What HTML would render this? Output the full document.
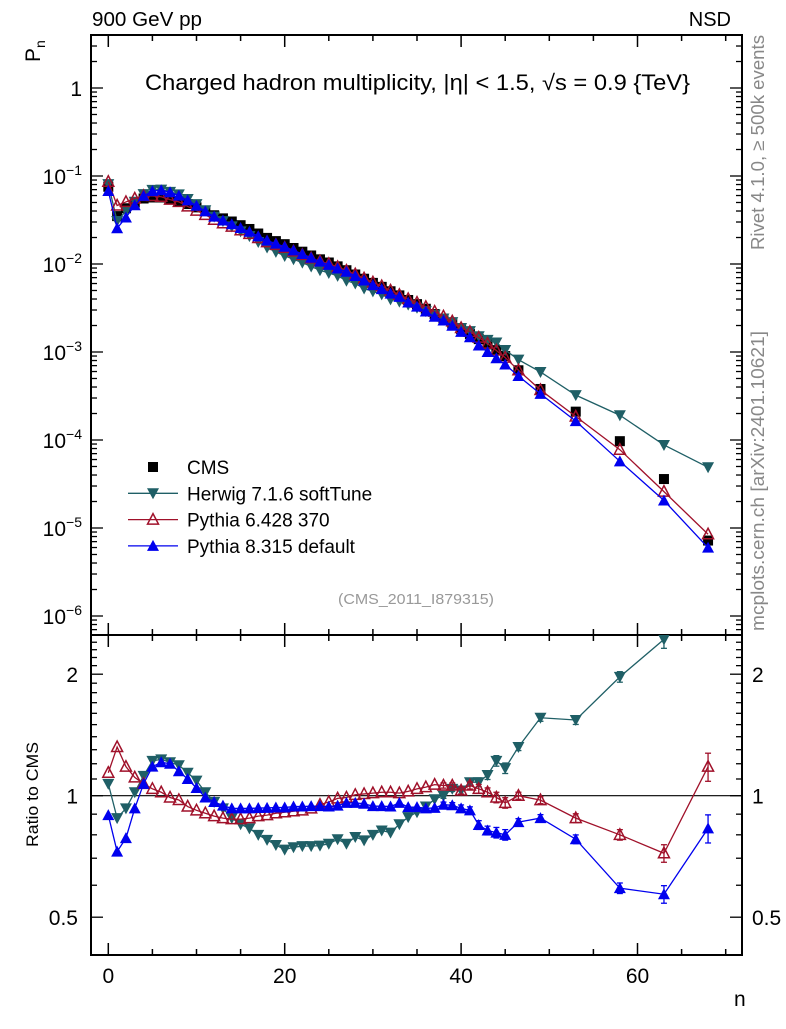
<!DOCTYPE html>
<html><head><meta charset="utf-8"><style>
body{margin:0;background:#fff;}
svg text{font-family:"Liberation Sans",sans-serif;}
</style></head><body>
<svg id="c" width="786" height="1024" xmlns="http://www.w3.org/2000/svg">
<defs>
<clipPath id="cm"><rect x="91" y="35" width="651" height="600"/></clipPath>
<clipPath id="cr"><rect x="91" y="635" width="651" height="320"/></clipPath>
</defs>
<rect x="0" y="0" width="786" height="1024" fill="#fff"/>
<text x="92" y="26" font-size="20" textLength="110" lengthAdjust="spacingAndGlyphs">900 GeV pp</text>
<text x="731" y="26" font-size="20" text-anchor="end">NSD</text>
<text x="145" y="90" font-size="22" textLength="545" lengthAdjust="spacingAndGlyphs">Charged hadron multiplicity, |η| &lt; 1.5, √s = 0.9 {TeV}</text>
<text transform="translate(764,250) rotate(-90)" font-size="18" textLength="215" lengthAdjust="spacingAndGlyphs" fill="#888">Rivet 4.1.0, ≥ 500k events</text>
<text transform="translate(764,631) rotate(-90)" font-size="18" textLength="300" lengthAdjust="spacingAndGlyphs" fill="#888">mcplots.cern.ch [arXiv:2401.10621]</text>
<text x="416" y="604" font-size="15" textLength="156" lengthAdjust="spacingAndGlyphs" fill="#999" text-anchor="middle">(CMS_2011_I879315)</text>
<text transform="translate(40,62) rotate(-90)" font-size="21">P<tspan font-size="14" dy="5">n</tspan></text>
<text transform="translate(38,847) rotate(-90)" font-size="17" textLength="105" lengthAdjust="spacingAndGlyphs">Ratio to CMS</text>
<text x="734" y="1006" font-size="21">n</text>
<g id="axes"></g>
<g id="marks"></g>
<g id="legend"></g>
</svg>
<script>
const nVals=[0,1,2,3,4,5,6,7,8,9,10,11,12,13,14,15,16,17,18,19,20,21,22,23,24,25,26,27,28,29,30,31,32,33,34,35,36,37,38,39,40,41,42,43,44,45,46.5,49,53,58,63,68];
const cmsVals=[0.0755,0.035,0.043,0.050,0.0555,0.057,0.057,0.0545,0.052,0.048,0.044,0.040,0.0358,0.033,0.0304,0.0276,0.025,0.0222,0.0198,0.0182,0.0168,0.0152,0.0138,0.0125,0.0113,0.0104,0.0094,0.0085,0.0076,0.0068,0.0061,0.0055,0.0049,0.0044,0.0039,0.0035,0.0031,0.0027,0.0024,0.0021,0.00182,0.0016,0.0014,0.00122,0.00105,0.0009,0.00062,0.00038,0.00021,0.000097,0.000036,0.0000072];
const herwigRatio=[1.07,0.88,0.93,1.02,1.12,1.22,1.23,1.21,1.19,1.14,1.09,1.02,0.965,0.93,0.88,0.85,0.83,0.80,0.777,0.755,0.735,0.745,0.75,0.75,0.752,0.76,0.78,0.76,0.79,0.775,0.80,0.82,0.81,0.85,0.885,0.91,0.94,0.98,1.0,1.04,1.03,1.08,1.08,1.125,1.22,1.17,1.32,1.56,1.54,1.97,2.44,6.8];
const py6Ratio=[1.14,1.32,1.18,1.11,1.07,1.04,1.02,0.99,0.976,0.94,0.92,0.905,0.89,0.88,0.875,0.875,0.88,0.89,0.895,0.905,0.91,0.915,0.92,0.93,0.95,0.965,0.985,0.99,1.005,1.01,1.015,1.02,1.02,1.015,1.025,1.04,1.05,1.065,1.06,1.06,1.03,1.06,1.04,1.02,0.99,0.96,1.0,0.975,0.88,0.80,0.72,1.18];
const py8Ratio=[0.895,0.727,0.785,0.93,1.07,1.18,1.21,1.20,1.15,1.10,1.045,0.99,0.965,0.945,0.93,0.93,0.93,0.932,0.933,0.935,0.935,0.94,0.94,0.942,0.942,0.94,0.945,0.96,0.96,0.955,0.942,0.942,0.94,0.96,0.937,0.937,0.93,0.933,0.95,0.947,0.93,0.92,0.846,0.82,0.81,0.80,0.86,0.88,0.78,0.59,0.57,0.83];
const relErr=[0.01,0.01,0.01,0.01,0.01,0.01,0.01,0.01,0.01,0.01,0.01,0.01,0.01,0.01,0.01,0.01,0.01,0.01,0.01,0.01,0.01,0.01,0.01,0.01,0.01,0.01,0.01,0.01,0.01,0.01,0.01,0.01,0.01,0.01,0.01,0.01,0.012,0.012,0.015,0.015,0.02,0.02,0.025,0.025,0.03,0.03,0.02,0.02,0.025,0.03,0.05,0.08];
const xTicks=[0,20,40,60];
const yTicksMain=[0,-1,-2,-3,-4,-5,-6];
const ratioTicks=[0.5,1,2];

const NS="http://www.w3.org/2000/svg";
const X=n=>108.3+8.82*n;
const YM=p=>88-88*Math.log10(p);
const YR=r=>795.7-121.5*Math.log2(r);
const axes=document.getElementById('axes'),marks=document.getElementById('marks'),leg=document.getElementById('legend');
function mk(tag,at,par){const e=document.createElementNS(NS,tag);for(const k in at)e.setAttribute(k,at[k]);par.appendChild(e);return e;}
function line(x1,y1,x2,y2,par,c,w){return mk('line',{x1,y1,x2,y2,stroke:c||'#000','stroke-width':w||1},par);}
let f1=mk('rect',{x:91,y:35,width:651,height:600,fill:'none',stroke:'#000','stroke-width':2},axes);


let f2=mk('rect',{x:91,y:635,width:651,height:320,fill:'none',stroke:'#000','stroke-width':2},axes);


for(let v=0;v<=70;v+=5){const maj=v%20===0;const L=maj?12:6;const x=X(v);
 [[35,1],[635,-1],[635,1],[955,-1]].forEach(([y,d])=>line(x,y,x,y+d*L,axes,'#000',1.5));}
xTicks.forEach(v=>{const t=mk('text',{x:X(v),y:983,'font-size':21,'text-anchor':'middle'},axes);t.textContent=v;
 
 });
for(let d=-7;d<=0;d++){for(let m=1;m<=9;m++){const p=m*Math.pow(10,d);const y=YM(p);if(y<35||y>635)continue;const L=m===1?12:6;
 line(91,y,91+L,y,axes,'#000',1.3);line(742,y,742-L,y,axes,'#000',1.3);}}
yTicksMain.forEach(e=>{const y=YM(Math.pow(10,e));const t=mk('text',{x:82,y:y+8,'font-size':21,'text-anchor':'end'},axes);
 if(e===0)t.textContent='1';else{t.textContent='10';const s=mk('tspan',{dy:-9,'font-size':14},t);s.textContent='−'+(-e);}
 
 });
[0.5,0.6,0.7,0.8,0.9,1,1.1,1.2,1.3,1.4,1.5,1.6,1.7,1.8,1.9,2,2.1,2.2,2.3,2.4].forEach(r=>{const y=YR(r);const maj=ratioTicks.includes(r);const L=maj?12:6;
 line(91,y,91+L,y,axes,'#000',1.3);line(742,y,742-L,y,axes,'#000',1.3);});
ratioTicks.forEach(r=>{const y=YR(r);
 const t=mk('text',{x:78,y:y+8,'font-size':21,'text-anchor':'end'},axes);t.textContent=r;
 
 
 const t2=mk('text',{x:752,y:y+8,'font-size':21},axes);t2.textContent=r;
 
 });
line(91,YR(1),742,YR(1),axes,'#000',1.2);

function marker(type,x,y,col,par){
 if(type==='sq')return mk('rect',{x:x-5,y:y-5,width:10,height:10,fill:col},par);
 if(type==='dn')return mk('polygon',{points:`${x-6},${y-5} ${x+6},${y-5} ${x},${y+6}`,fill:col},par);
 if(type==='up')return mk('polygon',{points:`${x-6},${y+5} ${x+6},${y+5} ${x},${y-6}`,fill:col},par);
 if(type==='upo')return mk('polygon',{points:`${x-5.5},${y+4.5} ${x+5.5},${y+4.5} ${x},${y-6}`,fill:'none',stroke:col,'stroke-width':1.5},par);
}
const series=[
 {name:'herwig',ratio:herwigRatio,col:'#1f5f66',m:'dn'},
 {name:'pythia6',ratio:py6Ratio,col:'#a0112a',m:'upo'},
 {name:'pythia8',ratio:py8Ratio,col:'#0000ee',m:'up'}];
const gM=mk('g',{'clip-path':'url(#cm)'},marks);
const gR=mk('g',{'clip-path':'url(#cr)'},marks);
cmsVals.forEach((v,i)=>{const s=marker('sq',X(nVals[i]),YM(v),'#000',gM);
 
 });
series.forEach(S=>{
 const pm=nVals.map((n,i)=>X(n)+','+YM(cmsVals[i]*S.ratio[i])).join(' ');
 const pl=mk('polyline',{points:pm,fill:'none',stroke:S.col,'stroke-width':1.3},gM);
 
 
 const pr=nVals.map((n,i)=>X(n)+','+YR(S.ratio[i])).join(' ');
 const rl=mk('polyline',{points:pr,fill:'none',stroke:S.col,'stroke-width':1.3},gR);
 
 
 nVals.forEach((n,i)=>{
  const m=marker(S.m,X(n),YM(cmsVals[i]*S.ratio[i]),S.col,gM);
  
  
  const r=S.ratio[i],e=r*relErr[i];
  if(relErr[i]>=0.015){line(X(n),YR(r+e),X(n),YR(r-e),gR,S.col,1.3);line(X(n)-3,YR(r+e),X(n)+3,YR(r+e),gR,S.col,1.3);line(X(n)-3,YR(r-e),X(n)+3,YR(r-e),gR,S.col,1.3);}
  const mr=marker(S.m,X(n),YR(r),S.col,gR);
  
  
 });
});
const legItems=[['CMS','sq','#000',false],['Herwig 7.1.6 softTune','dn','#1f5f66',true],['Pythia 6.428 370','upo','#a0112a',true],['Pythia 8.315 default','up','#0000ee',true]];
legItems.forEach((it,i)=>{const y=467+26.3*i;const g=mk('g',{},leg);
 
 
 if(it[3])line(128,y,178,y,g,it[2],1.3);
 marker(it[1],153,y,it[2],g);
 const t=mk('text',{x:187,y:y+7,'font-size':19},g);t.textContent=it[0];});
</script>
</body></html>
